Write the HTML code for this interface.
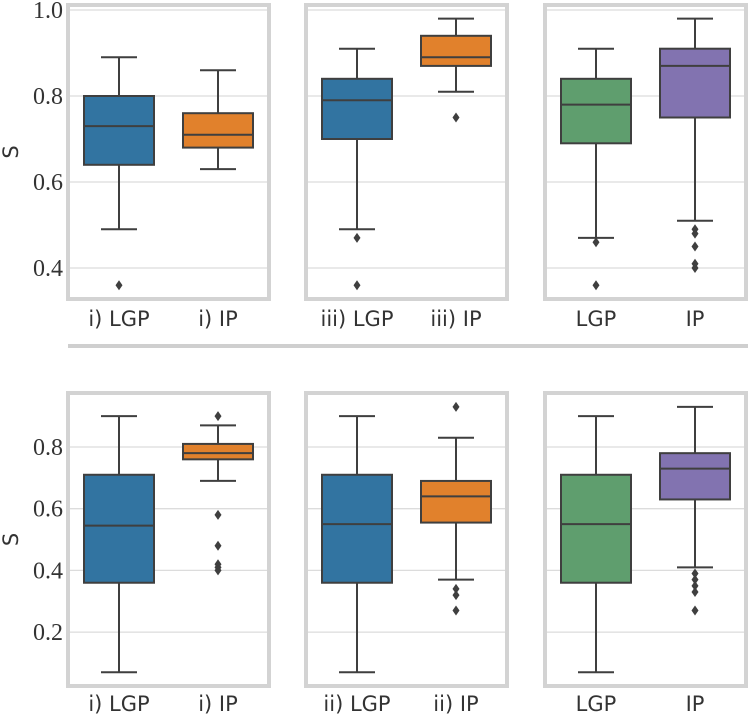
<!DOCTYPE html>
<html><head><meta charset="utf-8"><style>
body{margin:0;background:#fff;}
svg{display:block;}
.tick{font-family:"Liberation Serif",serif;font-size:24px;fill:#333;}
.xl{font-family:"DejaVu Sans","Liberation Sans",sans-serif;font-size:21px;fill:#333;}
</style></head><body>
<svg id="c" width="750" height="720"></svg>
<script>
// [whiskerLow, q1, median, q3, whiskerHigh]
const topStats = [
  [[0.49,0.64,0.73,0.80,0.89],[0.63,0.68,0.71,0.76,0.86]],
  [[0.49,0.70,0.79,0.84,0.91],[0.81,0.87,0.89,0.94,0.98]],
  [[0.47,0.69,0.78,0.84,0.91],[0.51,0.75,0.87,0.91,0.98]]
];
const topOutliers = [
  [[0.36],[]],
  [[0.47,0.36],[0.75]],
  [[0.46,0.36],[0.49,0.48,0.45,0.41,0.40]]
];
const topLabels = [["i) LGP","i) IP"],["iii) LGP","iii) IP"],["LGP","IP"]];
const bottomStats = [
  [[0.07,0.36,0.545,0.71,0.90],[0.69,0.76,0.78,0.81,0.87]],
  [[0.07,0.36,0.55,0.71,0.90],[0.37,0.555,0.64,0.69,0.83]],
  [[0.07,0.36,0.55,0.71,0.90],[0.41,0.63,0.73,0.78,0.93]]
];
const bottomOutliers = [
  [[],[0.90,0.58,0.48,0.42,0.41,0.40]],
  [[],[0.93,0.34,0.32,0.27]],
  [[],[0.39,0.37,0.35,0.33,0.27]]
];
const bottomLabels = [["i) LGP","i) IP"],["ii) LGP","ii) IP"],["LGP","IP"]];
const topTicks = [0.4,0.6,0.8,1.0];
const bottomTicks = [0.2,0.4,0.6,0.8];
const colors = [["#3274a1","#e1812c"],["#3274a1","#e1812c"],["#5f9e6e","#8273b0"]];

const NS="http://www.w3.org/2000/svg";
const svg=document.getElementById('c');
function mk(t,a,p){const e=document.createElementNS(NS,t);for(const k in a)e.setAttribute(k,a[k]);(p||svg).appendChild(e);return e;}
const panelX=[68,306,545], PW=201;
const rows=[
 {stats:topStats,out:topOutliers,labels:topLabels,ticks:topTicks,top:5,bot:299,y:v=>96-(v-0.8)*430,ly:326,name:'top'},
 {stats:bottomStats,out:bottomOutliers,labels:bottomLabels,ticks:bottomTicks,top:393,bot:686,y:v=>447-(v-0.8)*308.5,ly:711,name:'bottom'}
];
rows.forEach(r=>{
  const yl=mk('text',{x:12,y:(r.top+r.bot)/2,class:'xl','text-anchor':'middle','dominant-baseline':'middle',transform:`rotate(-90 12 ${(r.top+r.bot)/2})`,'font-size':'24'});
  yl.textContent='S';
  
  
  r.ticks.forEach(t=>{
    const tx=mk('text',{x:63,y:r.y(t)+8,class:'tick','text-anchor':'end'});
    tx.textContent=t.toFixed(1);
    
    
  });
  r.stats.forEach((pair,pi)=>{
    const x0=panelX[pi];
    const g=mk('g',{});
    
    
    r.ticks.forEach(t=>{const l=mk('line',{x1:x0,x2:x0+PW,y1:r.y(t),y2:r.y(t),stroke:'#dcdcdc','stroke-width':1.3},g);
      
      });
    pair.forEach((s,bi)=>{
      const cx=x0+51+bi*99, hw=35;
      const bg=mk('g',{},g);
      
      
      const st={stroke:'#3f3f3f','stroke-width':2};
      mk('line',Object.assign({x1:cx,x2:cx,y1:r.y(s[0]),y2:r.y(s[1])},st),bg);
      mk('line',Object.assign({x1:cx,x2:cx,y1:r.y(s[3]),y2:r.y(s[4])},st),bg);
      mk('line',Object.assign({x1:cx-18,x2:cx+18,y1:r.y(s[0]),y2:r.y(s[0])},st),bg);
      mk('line',Object.assign({x1:cx-18,x2:cx+18,y1:r.y(s[4]),y2:r.y(s[4])},st),bg);
      mk('rect',Object.assign({x:cx-hw,y:r.y(s[3]),width:2*hw,height:r.y(s[1])-r.y(s[3]),fill:colors[pi][bi]},st),bg);
      mk('line',Object.assign({x1:cx-hw,x2:cx+hw,y1:r.y(s[2]),y2:r.y(s[2])},st),bg);
      r.out[pi][bi].forEach(v=>{const y=r.y(v);
        const d=mk('polygon',{points:`${cx},${y-5} ${cx+3.5},${y} ${cx},${y+5} ${cx-3.5},${y}`,fill:'#3f3f3f'},bg);
        
        });
      const lt=mk('text',{x:cx,y:r.ly,class:'xl','text-anchor':'middle'});
      lt.textContent=r.labels[pi][bi];
      
      
    });
    const fr=mk('rect',{x:x0,y:r.top,width:PW,height:r.bot-r.top,fill:'none',stroke:'#d3d3d3','stroke-width':4},g);
    
    
  });
});
const sep=mk('line',{x1:68,x2:748,y1:346,y2:346,stroke:'#cfcfcf','stroke-width':4});


</script>
</body></html>
